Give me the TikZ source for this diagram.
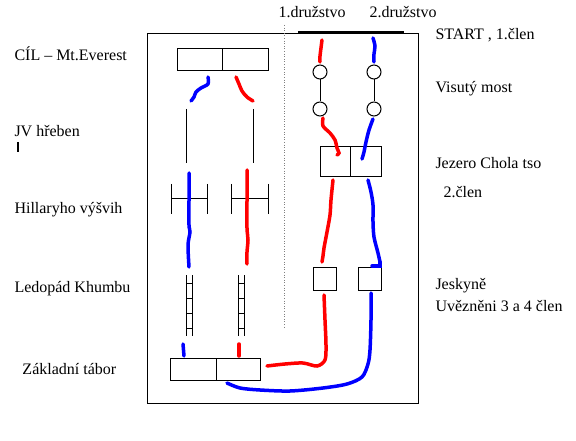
\documentclass[tikz,border=0pt]{standalone}
\usepackage{fontspec}
\setmainfont{Liberation Serif}
\usetikzlibrary{positioning}

\begin{document}
\begin{tikzpicture}[x=1pt,y=-1pt,line width=1pt,
	lbl/.style={anchor=base west,inner sep=0pt,font=\fontsize{16}{19}\selectfont},
	box/.style={draw,inner sep=0pt,outer sep=0pt},
	most/.style={draw,circle,inner sep=0pt,minimum size=14pt},
	team1/.style={red,line width=3.5pt,line cap=round},
	team2/.style={blue,line width=3.5pt,line cap=round}]
	\useasboundingbox (0,0) rectangle (576,441);
	
	\draw (147,34) rectangle (418,403);
	\draw[line width=3pt] (298,33) -- (404,33);
	\draw[gray,dotted,line width=0.6pt] (284,25) -- (284,327);
	
	\node[box,minimum width=45pt,minimum height=22pt] (cil1) at (199.5,60) {};
	\node[box,minimum width=46pt,minimum height=22pt,right=0pt of cil1] (cil2) {};
	\node[box,minimum width=30pt,minimum height=30pt] (jez1) at (335,162) {};
	\node[box,minimum width=31pt,minimum height=30pt,right=0pt of jez1] (jez2) {};
	\node[box,minimum width=23pt,minimum height=23pt] (jes1) at (324.5,278.5) {};
	\node[box,minimum width=23pt,minimum height=23pt] (jes2) at (369.5,278.5) {};
	\node[box,minimum width=46pt,minimum height=22pt] (zak1) at (193,369) {};
	\node[box,minimum width=44pt,minimum height=22pt,right=0pt of zak1] (zak2) {};
	
	\node[most] (m1) at (320,72) {};
	\node[most] (m2) at (320,109) {};
	\node[most] (m3) at (374,72) {};
	\node[most] (m4) at (374,109) {};
	\draw (m1) -- (m2);
	\draw (m3) -- (m4);
	
	\draw (186,109) -- (186,163);
	\draw (253,109) -- (253,163);
	
	\draw (171,199) -- (207,199) (171,184) -- (171,214) (207,184) -- (207,214);
	\draw (231,199) -- (268,199) (231,184) -- (231,214) (268,184) -- (268,214);
	
	\foreach \x in {186,238} {
		\draw (\x,275) -- (\x,336) (\x+6.5,275) -- (\x+6.5,336);
		\foreach \y in {283,298,313,328}
			\draw (\x,\y) -- (\x+6.5,\y);
	}
	
	\draw[line width=2pt] (18,142) -- (18,152);
	
	\draw[team1] plot[smooth] coordinates {(322,40) (321,48) (320,56) (320,62)};
	\draw[team2] plot[smooth] coordinates {(373,38) (375,46) (374,54) (374,62)};
	\draw[team1] plot[smooth] coordinates {(323,118) (323,126) (330,133) (335,140) (337,148) (339,153) (337,155)};
	\draw[team2] plot[smooth] coordinates {(373,119) (369,130) (366,142) (364,152) (362,159)};
	\draw[team1] plot[smooth] coordinates {(333,180) (331,200) (330,215) (327,232) (324,248) (323,256) (322,262)};
	\draw[team2] plot[smooth] coordinates {(368,180) (371,192) (373,205) (373,222) (374,237) (378,253) (380,262)};
	\draw[team2] (380,262) -- (380,266) -- (372,266);
	\draw[team1] plot[smooth] coordinates {(247,170) (247,200) (247,228) (248,240) (247,252) (247,264)};
	\draw[team2] plot[smooth] coordinates {(189,173) (189,200) (189,225) (190,232) (188,245) (189,267)};
	\draw[team2] (183,344) -- (184,356);
	\draw[team1] (239,344) -- (239,356);
	\draw[team1] plot[smooth] coordinates {(324,295) (325,320) (326,345) (325,360) (317,366) (303,363) (285,364) (267,366)};
	\draw[team2] plot[smooth] coordinates {(371,293) (371,320) (370,350) (368,364) (362,377) (347,384) (323,388) (290,391) (260,390) (240,388) (227,383)};
	\draw[team2] plot[smooth] coordinates {(208,77) (208,84) (201,88) (196,92) (194,97) (191,101)};
	\draw[team1] plot[smooth] coordinates {(236,77) (239,84) (242,91) (247,97) (253,101)};
	
	\node[lbl] (t1) at (278,18) {1.družstvo};
	\node[lbl] (t2) at (369,18) {2.družstvo};
	\node[lbl] (cil) at (14,61) {CÍL – Mt.Everest};
	\node[lbl] (jv) at (14,137) {JV hřeben};
	\node[lbl] (hil) at (14,213) {Hillaryho výšvih};
	\node[lbl] (led) at (14,292) {Ledopád Khumbu};
	\node[lbl] (zak) at (22,374) {Základní tábor};
	\node[lbl] (start) at (435,40) {START , 1.člen};
	\node[lbl] (vis) at (435,93) {Visutý most};
	\node[lbl] (jez) at (435,168) {Jezero Chola tso};
	\node[lbl] (cl2) at (443,197) {2.člen};
	\node[lbl] (jes) at (435,289) {Jeskyně};
	\node[lbl] (uve) at (435,311) {Uvězněni 3 a 4 člen};
\end{tikzpicture}
\end{document}
